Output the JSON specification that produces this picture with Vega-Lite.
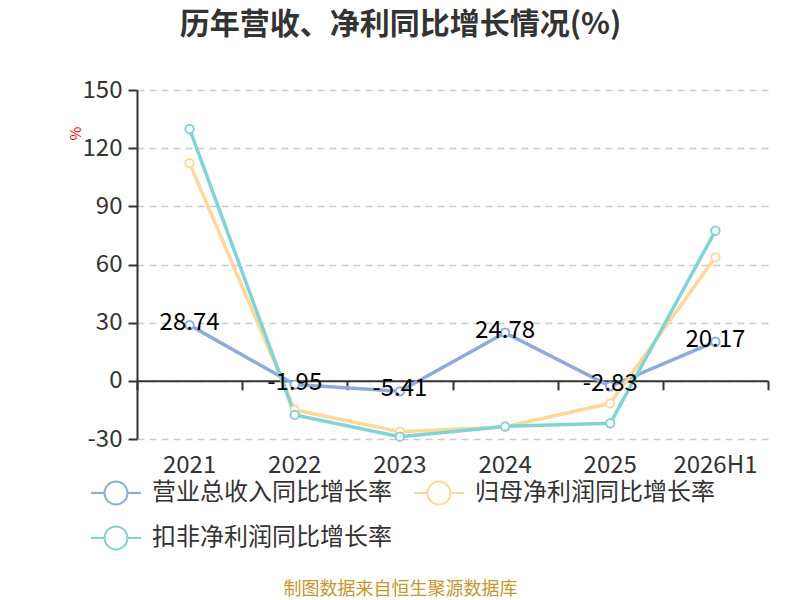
{
  "$schema": "https://vega.github.io/schema/vega-lite/v6.json",
  "width": 631,
  "height": 349,
  "autosize": "none",
  "padding": {"left": 137, "top": 90, "right": 32, "bottom": 161},
  "background": "white",
  "title": {
    "text": "历年营收、净利同比增长情况(%)",
    "font": "Noto Sans CJK SC",
    "fontSize": 30,
    "fontWeight": "bold",
    "color": "#333333",
    "anchor": "middle",
    "dx": -52,
    "offset": 38
  },
  "config": {
    "view": {"stroke": null},
    "font": "Noto Sans CJK SC",
    "locale": {
      "number": {"decimal": ".", "thousands": ",", "grouping": [3], "currency": ["", ""], "minus": "-"}
    },
    "axis": {
      "labelFont": "Noto Sans CJK SC",
      "labelFontSize": 24,
      "labelColor": "#333333",
      "domainColor": "#333333",
      "domainWidth": 2,
      "tickColor": "#333333",
      "tickWidth": 2
    },
    "legend": {
      "labelFont": "Noto Sans CJK SC",
      "labelFontSize": 24,
      "labelColor": "#333333"
    }
  },
  "data": {
    "values": [
      {"year": "2021", "series": "营业总收入同比增长率", "value": 28.74},
      {"year": "2022", "series": "营业总收入同比增长率", "value": -1.95},
      {"year": "2023", "series": "营业总收入同比增长率", "value": -5.41},
      {"year": "2024", "series": "营业总收入同比增长率", "value": 24.78},
      {"year": "2025", "series": "营业总收入同比增长率", "value": -2.83},
      {"year": "2026H1", "series": "营业总收入同比增长率", "value": 20.17},
      {"year": "2021", "series": "归母净利润同比增长率", "value": 112.3},
      {"year": "2022", "series": "归母净利润同比增长率", "value": -15.0},
      {"year": "2023", "series": "归母净利润同比增长率", "value": -26.2},
      {"year": "2024", "series": "归母净利润同比增长率", "value": -23.7},
      {"year": "2025", "series": "归母净利润同比增长率", "value": -11.6},
      {"year": "2026H1", "series": "归母净利润同比增长率", "value": 63.7},
      {"year": "2021", "series": "扣非净利润同比增长率", "value": 129.9},
      {"year": "2022", "series": "扣非净利润同比增长率", "value": -17.6},
      {"year": "2023", "series": "扣非净利润同比增长率", "value": -28.8},
      {"year": "2024", "series": "扣非净利润同比增长率", "value": -23.5},
      {"year": "2025", "series": "扣非净利润同比增长率", "value": -21.9},
      {"year": "2026H1", "series": "扣非净利润同比增长率", "value": 77.4}
    ]
  },
  "resolve": {"axis": {"x": "independent"}},
  "layer": [
    {
      "mark": {
        "type": "line",
        "strokeWidth": 3.5,
        "point": {"filled": false, "fill": "white", "size": 70, "strokeWidth": 2}
      },
      "encoding": {
        "x": {
          "field": "year",
          "type": "nominal",
          "bandPosition": 0.5,
          "scale": {"type": "band", "paddingInner": 0, "paddingOuter": 0},
          "axis": {
            "orient": "bottom",
            "labelAngle": 0,
            "domain": false,
            "ticks": false,
            "grid": false,
            "labelPadding": 14,
            "title": "制图数据来自恒生聚源数据库",
            "titleFont": "Noto Sans CJK SC",
            "titleFontSize": 18,
            "titleFontWeight": "normal",
            "titleColor": "#c8962a",
            "titleX": 263,
            "titleY": 150,
            "titleAlign": "center",
            "titleBaseline": "middle"
          }
        },
        "y": {
          "field": "value",
          "type": "quantitative",
          "title": "%",
          "scale": {"domain": [-30, 150], "nice": false, "zero": false},
          "axis": {
            "values": [-30, 0, 30, 60, 90, 120, 150],
            "tickSize": 9,
            "labelPadding": 6,
            "grid": true,
            "gridColor": "#cccccc",
            "gridDash": [7, 5],
            "gridWidth": 1.5,
            "titleColor": "red",
            "titleFontSize": 15,
            "titleFontWeight": "normal",
            "titleX": -62,
            "titleY": 43,
            "titleAlign": "center",
            "titleBaseline": "middle"
          }
        },
        "color": {
          "field": "series",
          "type": "nominal",
          "scale": {
            "domain": ["营业总收入同比增长率", "归母净利润同比增长率", "扣非净利润同比增长率"],
            "range": ["#8fabdd", "#ffd899", "#80d4d5"]
          },
          "legend": {
            "title": null,
            "orient": "none",
            "direction": "horizontal",
            "legendX": -47,
            "legendY": 383,
            "columns": 2,
            "padding": 0,
            "columnPadding": 21,
            "rowPadding": 5,
            "clipHeight": 40,
            "symbolType": "M-1,0L-0.46,0M0.46,0L1,0M0.46,0A0.46,0.46,0,1,1,-0.46,0A0.46,0.46,0,1,1,0.46,0",
            "symbolSize": 2500,
            "symbolStrokeWidth": 2,
            "symbolFillColor": "white",
            "labelOffset": 10,
            "labelLimit": 300
          }
        }
      }
    },
    {
      "transform": [{"filter": "datum.series === '营业总收入同比增长率'"}],
      "mark": {"type": "text", "fontSize": 24, "color": "black", "dy": -2},
      "encoding": {
        "x": {
          "field": "year",
          "type": "nominal",
          "bandPosition": 0.5,
          "axis": {
            "orient": "bottom",
            "offset": -58.2,
            "labels": false,
            "title": null,
            "grid": false,
            "domain": true,
            "ticks": true,
            "tickSize": 9,
            "tickBand": "extent"
          }
        },
        "y": {"field": "value", "type": "quantitative", "title": "%"},
        "text": {"field": "value", "type": "quantitative", "format": ".2f"}
      }
    }
  ]
}
